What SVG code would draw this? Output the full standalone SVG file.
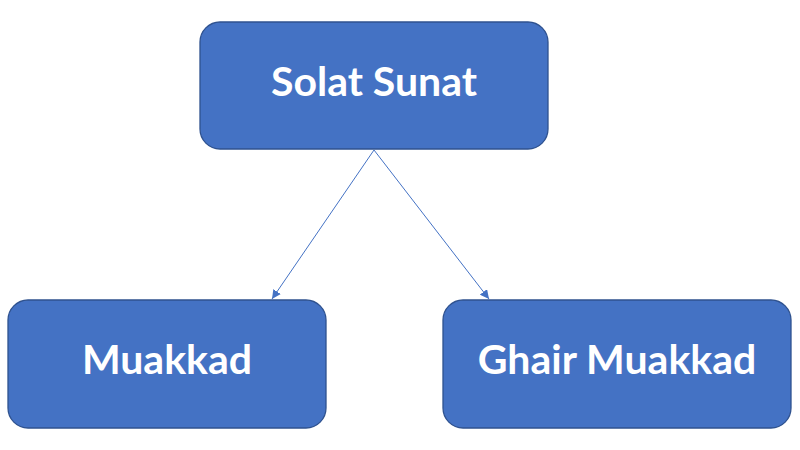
<svg xmlns="http://www.w3.org/2000/svg" width="800" height="450" viewBox="0 0 800 450">
<style>
.box{fill:#4472C4;stroke:#2F528F;stroke-width:1.3}
.lbl{font-family:"Comic Sans MS","Lato","DejaVu Sans",sans-serif;font-weight:bold;font-size:41px;fill:#fff;text-anchor:middle;dominant-baseline:central}
.conn{stroke:#4472C4;stroke-width:1;fill:none}
</style>
<defs>
<marker id="ah" viewBox="0 0 10 10" refX="10" refY="5" markerWidth="9" markerHeight="9" markerUnits="userSpaceOnUse" orient="auto">
<path d="M0,0 L10,5 L0,10 z" fill="#4472C4"/>
</marker>
</defs>
<rect width="800" height="450" fill="#fff"/>
<g id="connectors">
<line class="conn" x1="374" y1="150" x2="272" y2="299" marker-end="url(#ah)"/>
<line class="conn" x1="374" y1="150" x2="489" y2="299" marker-end="url(#ah)"/>
</g>
<g id="solat-sunat">
<rect class="box" x="200" y="22" width="348" height="127" rx="20"/>
<text class="lbl" x="374" y="80">Solat Sunat</text>
</g>
<g id="muakkad">
<rect class="box" x="8" y="300" width="318" height="128" rx="20"/>
<text class="lbl" x="167" y="358">Muakkad</text>
</g>
<g id="ghair-muakkad">
<rect class="box" x="443" y="300" width="348" height="128" rx="20"/>
<text class="lbl" x="617" y="358">Ghair Muakkad</text>
</g>
</svg>
